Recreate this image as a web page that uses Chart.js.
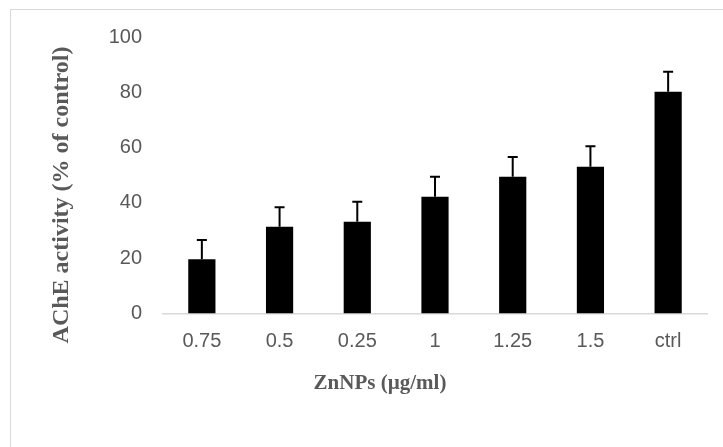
<!DOCTYPE html>
<html lang="en">
<head>
    <meta charset="UTF-8">
    <title>AChE activity vs ZnNPs</title>
    <script src="https://cdn.jsdelivr.net/npm/chart.js"></script>
    <style>
        html, body { margin: 0; padding: 0; background: #fff; }
        #wrap { position: relative; width: 723px; height: 447px; }
        #frame { position: absolute; left: 10px; top: 9px; right: -5px; bottom: -5px;
                 border-left: 1px solid #d9d9d9; border-top: 1px solid #d9d9d9; }
    </style>
</head>
<body>
    <div id="wrap">
        <div id="frame"></div>
        <canvas id="acheChart" width="723" height="447"></canvas>
    </div>
    <script>
        const doses = ['0.75', '0.5', '0.25', '1', '1.25', '1.5', 'ctrl'];
        const activity = [19.6, 31.4, 33.2, 42.2, 49.5, 53.1, 80.2];
        const errors = [7, 7, 7.2, 7.3, 7.1, 7.4, 7.2];
        const yTicks = [0, 20, 40, 60, 80, 100];

        const grey = '#595959';

        // upper error bars + axis titles
        const extras = {
            id: 'extras',
            afterDatasetsDraw(chart) {
                const ctx = chart.ctx;
                const x = chart.scales.x, y = chart.scales.y;
                ctx.save();
                ctx.strokeStyle = '#000';
                ctx.lineWidth = 2;
                activity.forEach((v, i) => {
                    const px = x.getPixelForValue(i);
                    const top = y.getPixelForValue(v + errors[i]);
                    ctx.beginPath();
                    ctx.moveTo(px, y.getPixelForValue(v));
                    ctx.lineTo(px, top);
                    ctx.moveTo(px - 5, top);
                    ctx.lineTo(px + 5, top);
                    ctx.stroke();
                });
                ctx.restore();
            },
            afterDraw(chart) {
                const ctx = chart.ctx;
                ctx.save();
                ctx.fillStyle = grey;
                ctx.textAlign = 'center';
                ctx.textBaseline = 'middle';
                ctx.font = 'bold 21px "Liberation Serif", "Times New Roman", serif';
                ctx.fillText('ZnNPs (µg/ml)', 380, 384);
                ctx.font = 'bold 24px "Liberation Serif", "Times New Roman", serif';
                ctx.translate(62, 195);
                ctx.rotate(-Math.PI / 2);
                ctx.fillText('AChE activity (% of control)', 0, 0);
                ctx.restore();
            }
        };

        new Chart(document.getElementById('acheChart'), {
            type: 'bar',
            data: {
                labels: doses,
                datasets: [{
                    data: activity,
                    backgroundColor: '#000',
                    borderWidth: 0,
                    barPercentage: 0.35,
                    categoryPercentage: 1
                }]
            },
            options: {
                responsive: false,
                animation: false,
                layout: { padding: { top: 37, right: 16, bottom: 0, left: 0 } },
                plugins: { legend: { display: false }, tooltip: { enabled: false } },
                scales: {
                    x: {
                        grid: { display: false, drawTicks: false },
                        border: { color: '#d9d9d9', width: 1.5 },
                        ticks: { color: grey, padding: 16, font: { family: '"Liberation Sans", Arial', size: 20 } },
                        afterFit(s) { s.height = 447 - 313.5; }
                    },
                    y: {
                        min: 0,
                        max: 100,
                        afterBuildTicks(s) { s.ticks = yTicks.map(v => ({ value: v })); },
                        grid: { display: false, drawTicks: false },
                        border: { display: false },
                        ticks: { color: grey, padding: 21, font: { family: '"Liberation Sans", Arial', size: 20 } },
                        afterFit(s) { s.width = 163; }
                    }
                }
            },
            plugins: [extras]
        });
    </script>
</body>
</html>
